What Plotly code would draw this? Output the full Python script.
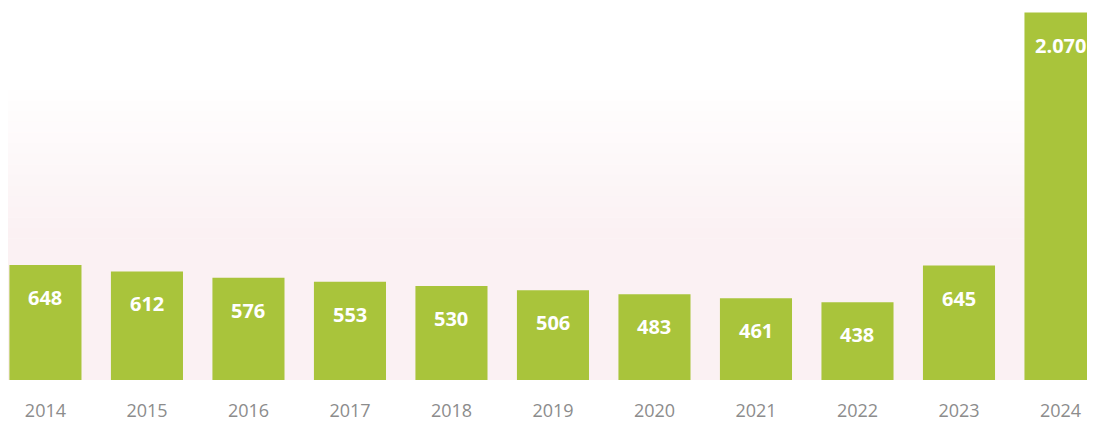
import plotly.graph_objects as go

years = ["2014", "2015", "2016", "2017", "2018", "2019", "2020", "2021", "2022", "2023", "2024"]
values = [648, 612, 576, 553, 530, 506, 483, 461, 438, 645, 2070]

labels = [f"{v:,}".replace(",", ".") for v in values]

fig = go.Figure()
fig.add_trace(go.Bar(
    x=years, y=values,
    marker=dict(color="#a9c43b", line=dict(width=0)),
    width=0.71,
    hoverinfo="skip",
))

for i, (v, t) in enumerate(zip(values, labels)):
    fig.add_annotation(x=i, y=v, text=t, showarrow=False, yanchor="top", yshift=-17,
                       font=dict(family="Open Sans", size=20, color="white", weight="bold"))

# faint pink background band (smooth fade from white)
n = 14
start, end = 0.22, 0.62
for k in range(n):
    y0 = start + (end - start) * k / n
    y1 = start + (end - start) * (k + 1) / n
    a = 0.8 * (k + 1) / n
    fig.add_shape(type="rect", xref="paper", yref="paper", x0=0, x1=1, y0=1 - y1, y1=1 - y0,
                  fillcolor=f"rgba(250,238,240,{a:.3f})", line=dict(width=0), layer="below")
fig.add_shape(type="rect", xref="paper", yref="paper", x0=0, x1=1, y0=0, y1=1 - end,
              fillcolor="rgba(250,238,240,0.8)", line=dict(width=0), layer="below")

fig.update_layout(
    width=1087, height=416,
    margin=dict(l=0, r=0, t=0, b=44),
    paper_bgcolor="white", plot_bgcolor="rgba(0,0,0,0)",
    showlegend=False,
    xaxis=dict(type="category", range=[-0.369, 10.34], showgrid=False, zeroline=False,
               showline=False, ticks="", ticklabelstandoff=18,
               tickfont=dict(family="Open Sans", size=18, color="#8c8c8c")),
    yaxis=dict(range=[0, 2096], visible=False),
)

fig.write_html("out.html")
